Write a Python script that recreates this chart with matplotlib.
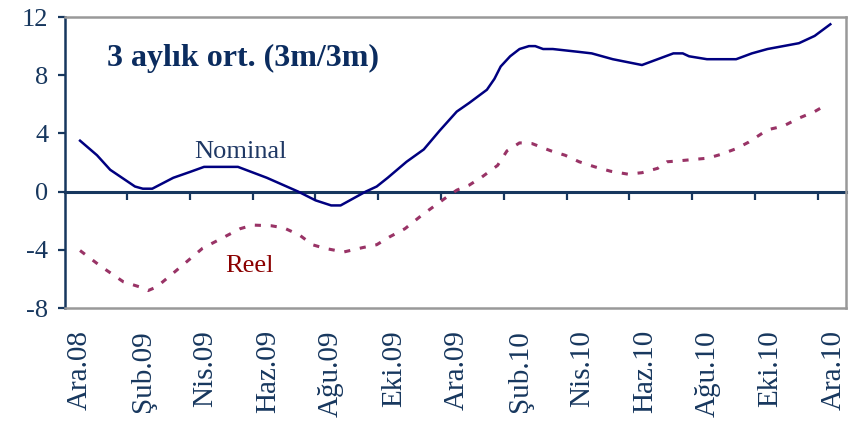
import matplotlib
matplotlib.use("Agg")
import matplotlib.pyplot as plt

# month index: 0 = Ara.08 ... 24 = Ara.10
tick_labels = ["Ara.08", "Şub.09", "Nis.09", "Haz.09", "Ağu.09", "Eki.09", "Ara.09",
               "Şub.10", "Nis.10", "Haz.10", "Ağu.10", "Eki.10", "Ara.10"]

nominal_x = [0, 0.54, 0.96, 1.75, 2.0, 2.3, 2.97, 3.5, 3.95, 5.03, 5.95, 6.95, 7.5, 8.0,
             8.3, 9.1, 9.45, 9.8, 10.4, 10.95, 11.46, 12.0, 12.4, 12.96, 13.2, 13.4, 13.7,
             14.0, 14.3, 14.5, 14.75, 15.06, 15.9, 16.3, 16.97, 17.9, 18.4, 18.9, 19.2,
             19.4, 19.97, 20.9, 21.4, 21.9, 22.9, 23.4, 23.9]
nominal = [3.5, 2.5, 1.5, 0.35, 0.2, 0.2, 0.95, 1.35, 1.7, 1.7, 0.95, 0.0, -0.6, -0.95,
           -0.95, 0.0, 0.35, 0.95, 2.05, 2.9, 4.2, 5.5, 6.1, 7.0, 7.75, 8.6, 9.3,
           9.8, 10.0, 10.0, 9.8, 9.8, 9.6, 9.5, 9.1, 8.7, 9.1, 9.5, 9.5,
           9.3, 9.1, 9.1, 9.5, 9.8, 10.2, 10.7, 11.5]

reel_x = [0, 0.64, 1.38, 1.9, 2.17, 2.44, 2.97, 3.9, 5.1, 5.5, 6.1, 6.5, 7.0, 7.4, 7.8,
          8.4, 9.0, 9.45, 9.87, 10.35, 10.9, 11.6, 12.0, 12.4, 12.8, 13.3, 13.6, 14.0,
          14.4, 15.0, 15.45, 15.9, 16.4, 16.9, 17.45, 17.9, 18.4, 18.7, 19.0, 20.0,
          20.4, 20.9, 21.3, 21.9, 22.4, 22.9, 23.4, 23.8]
reel = [-4.05, -5.1, -6.2, -6.55, -6.8, -6.55, -5.6, -3.9, -2.55, -2.3, -2.35, -2.5,
        -3.0, -3.65, -3.9, -4.15, -3.85, -3.65, -3.1, -2.55, -1.6, -0.5, 0.1, 0.45,
        1.0, 1.8, 2.8, 3.35, 3.3, 2.8, 2.5, 2.05, 1.7, 1.4, 1.2, 1.3, 1.6, 2.05, 2.1,
        2.3, 2.55, 2.95, 3.4, 4.25, 4.5, 5.05, 5.5, 6.0]

navy = "#17375e"
frame = "#999999"

plt.rcParams["font.family"] = ["Liberation Serif", "DejaVu Serif"]
plt.rcParams["axes.unicode_minus"] = False

fig = plt.figure(figsize=(8.55, 4.21), dpi=100)
ax = fig.add_axes([0.076, 0.2684, 0.9135, 0.6912])

ax.plot(nominal_x, nominal, color="#000080", lw=1.8, zorder=3)
ax.plot(reel_x, reel, color="#993366", lw=2.2, linestyle=(0, (2, 3.2)),
        dash_capstyle="butt", zorder=3)

ax.set_xlim(-0.48, 24.4)
ax.set_ylim(-8, 12)

for s in ["top", "right", "bottom"]:
    ax.spines[s].set_color(frame)
    ax.spines[s].set_linewidth(1.8)
ax.spines["left"].set_color(navy)
ax.spines["left"].set_linewidth(1.8)

ax.set_yticks(range(-8, 13, 4))
ax.tick_params(axis="y", direction="out", length=5, width=1.6, color=navy,
               labelcolor=navy, labelsize=19, pad=7)
ax.set_xticks(range(0, 25, 2))
ax.set_xticklabels(tick_labels, rotation=90, va="top")
ax.tick_params(axis="x", length=0, labelcolor=navy, labelsize=21, pad=16)

# zero line with tick marks (category axis crossing at 0)
zero = ax.secondary_xaxis(0.4)
zero.spines["bottom"].set_color(navy)
zero.spines["bottom"].set_linewidth(2.2)
zero.set_xticks([1.5 + 2 * k for k in range(12)])
zero.set_xticklabels([])
zero.tick_params(axis="x", direction="out", length=6, width=1.6, color=navy)

ax.text(0.054, 0.859, "3 aylık ort. (3m/3m)", transform=ax.transAxes, fontsize=23,
        fontweight="bold", color="#0b2c5f", ha="left", va="center")
ax.text(5.1, 2.7, "Nominal", fontsize=19, color="#1f3864", ha="center", va="center")
ax.text(5.4, -5.1, "Reel", fontsize=19, color="#8b0000", ha="center", va="center")

fig.savefig("out.png", dpi=100)
